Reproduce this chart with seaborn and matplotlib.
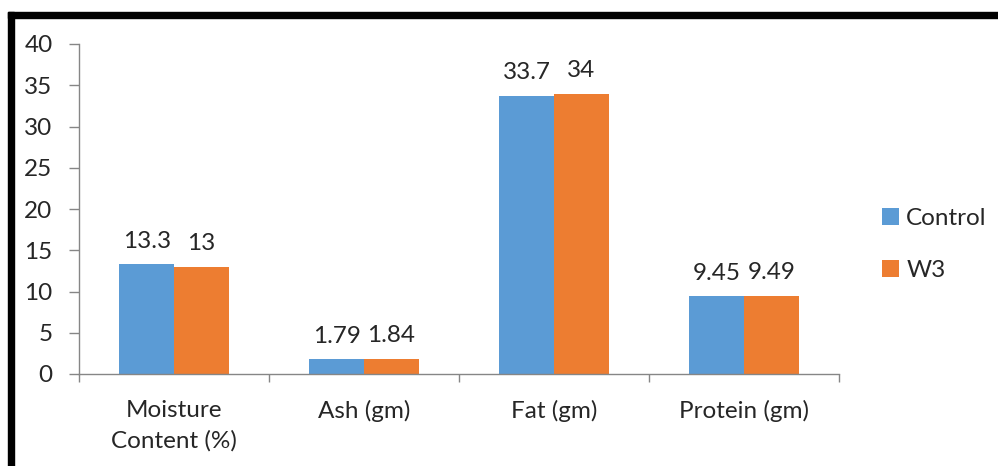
import matplotlib
matplotlib.use("Agg")
import matplotlib.pyplot as plt
from matplotlib.patches import Rectangle
import seaborn as sns
import pandas as pd

categories = ["Moisture\nContent (%)", "Ash (gm)", "Fat (gm)", "Protein (gm)"]
control = [13.3, 1.79, 33.7, 9.45]
w3 = [13.0, 1.84, 34.0, 9.49]
series = ["Control", "W3"]
yticks = [0, 5, 10, 15, 20, 25, 30, 35, 40]

df = pd.DataFrame({
    "category": categories * 2,
    "value": control + w3,
    "series": [series[0]] * len(categories) + [series[1]] * len(categories),
})

sns.set_theme(style="white")
plt.rcParams["font.family"] = ["Lato", "DejaVu Sans"]
FS = 17.5

fig = plt.figure(figsize=(9.98, 4.66), dpi=100)
ax = fig.add_axes([79 / 998, 1 - 374 / 466, 760 / 998, 330 / 466])

palette = {"Control": "#5B9BD5", "W3": "#ED7D31"}
sns.barplot(data=df, x="category", y="value", hue="series", order=categories,
            hue_order=series, palette=palette, width=0.575, linewidth=0,
            saturation=1, ax=ax)

ax.set_xlim(-0.5, len(categories) - 0.5)
ax.set_ylim(0, 40)
ax.set_yticks(yticks)
ax.set_yticklabels([str(t) for t in yticks], fontsize=FS)
ax.set_xlabel("")
ax.set_ylabel("")

# category boundary ticks along the x axis, labels centred in each slot
ax.set_xticks([i - 0.5 for i in range(len(categories) + 1)], minor=False)
ax.set_xticklabels([""] * (len(categories) + 1))
ax.set_xticks(range(len(categories)), minor=True)
ax.set_xticklabels(categories, minor=True, fontsize=FS, linespacing=1.5)
ax.tick_params(axis="x", which="minor", length=0, pad=19)
ax.tick_params(axis="x", which="major", length=6, width=1, color="#868686",
               direction="out", bottom=True)
ax.tick_params(axis="y", length=7, width=1, color="#868686", direction="out",
               left=True, pad=12)

for side in ["top", "right"]:
    ax.spines[side].set_visible(False)
for side in ["left", "bottom"]:
    ax.spines[side].set_color("#868686")
    ax.spines[side].set_linewidth(1)

for container in ax.containers:
    labels = [f"{v:g}" for v in container.datavalues]
    ax.bar_label(container, labels=labels, padding=9, fontsize=FS)

handles, lbls = ax.get_legend_handles_labels()
ax.legend(handles, lbls, loc="center left", bbox_to_anchor=(803 / 760, 0.392),
          frameon=False, fontsize=FS, handlelength=0.7, handleheight=0.7,
          handletextpad=0.3, labelspacing=1.25, borderaxespad=0, borderpad=0)

# heavy black frame along top and left edges
fig.patches.append(Rectangle((8 / 998, 0), 6 / 998, 1 - 12 / 466,
                             transform=fig.transFigure, color="black", zorder=10))
fig.patches.append(Rectangle((8 / 998, 1 - 18 / 466), 1, 6 / 466,
                             transform=fig.transFigure, color="black", zorder=10))

fig.savefig("out.png", dpi=100, facecolor="white")
